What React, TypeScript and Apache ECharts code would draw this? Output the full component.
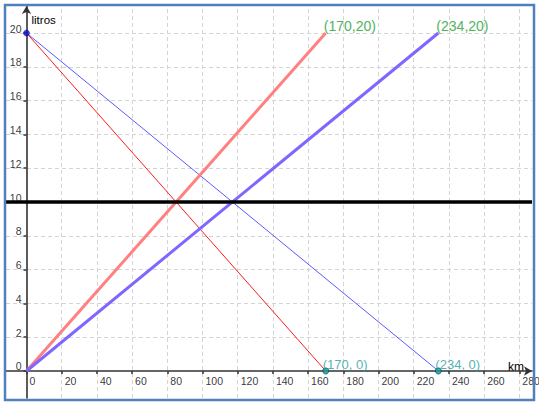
import React, { useEffect, useRef } from "react";
import * as echarts from "echarts";

const xTicks = [0, 20, 40, 60, 80, 100, 120, 140, 160, 180, 200, 220, 240, 260, 280];
const yTicks = [0, 2, 4, 6, 8, 10, 12, 14, 16, 18, 20];
const redDown = [[0, 20], [170, 0]];
const blueDown = [[0, 20], [234, 0]];
const redUp = [[0, 0], [170, 20]];
const purpleUp = [[0, 0], [234, 20]];
const levelY = 10;
const startPoint = [[0, 20]];
const endPoints = [[170, 0], [234, 0]];
const topPoints = [[170, 20], [234, 20]];

const FONT = "Liberation Sans, Arial, sans-serif";

export default function App() {
  const ref = useRef<HTMLDivElement>(null);
  useEffect(() => {
    if (!ref.current) return;
    const chart = echarts.init(ref.current, null, { renderer: "svg" });
    const axisCommon = {
      type: "value" as const,
      axisLine: {
        show: true,
        onZero: true,
        symbol: ["none", "arrow"],
        symbolSize: [7, 8],
        lineStyle: { color: "#333", width: 1.6 },
      },
      axisTick: { show: true, length: 3, lineStyle: { color: "#333", width: 1.5 } },
      axisLabel: { show: false },
      splitLine: { show: false },
    };
    const gridLineStyle = { color: "#d4d4d4", type: [4, 3] as any, width: 1 };
    const gridLines = [
      ...xTicks.filter((v) => v !== 0).map((v) => ({ xAxis: v })),
      ...yTicks.filter((v) => v !== 0 && v !== levelY).map((v) => ({ yAxis: v })),
    ];
    const tickLabelStyle = { fontFamily: FONT, fontSize: 10.5, color: "#000" };
    chart.setOption({
      animation: false,
      backgroundColor: "#fff",
      grid: {
        left: 6,
        right: 7,
        top: 6,
        bottom: 8,
        containLabel: false,
        outerBoundsMode: "none",
      },
      xAxis: {
        ...axisCommon,
        min: -11.65,
        max: 287.2,
        name: "km",
        nameLocation: "end",
        nameGap: -24,
        nameTextStyle: {
          fontFamily: FONT,
          fontSize: 12,
          color: "#000",
          align: "left",
          verticalAlign: "bottom",
          lineHeight: 8,
        },
        axisTick: { ...axisCommon.axisTick, customValues: xTicks },
      },
      yAxis: {
        ...axisCommon,
        min: -1.6,
        max: 21.6,
        name: "litros",
        nameLocation: "end",
        nameGap: -14,
        nameTextStyle: {
          fontFamily: FONT,
          fontSize: 11.5,
          color: "#000",
          align: "left",
          verticalAlign: "middle",
          padding: [0, 0, 0, 5],
        },
        axisTick: { ...axisCommon.axisTick, customValues: yTicks },
      },
      graphic: [
        {
          type: "rect",
          shape: { x: 5, y: 5, width: 529, height: 395 },
          style: { fill: "none", stroke: "#4f81bd", lineWidth: 2.5 },
          z: 100,
          silent: true,
        },
      ],
      series: [
        {
          type: "line",
          data: [],
          z: 0,
          markLine: {
            silent: true,
            symbol: ["none", "none"],
            label: { show: false },
            lineStyle: gridLineStyle,
            data: gridLines,
            z: 0,
          },
        },
        {
          type: "scatter",
          data: xTicks.map((v) => [v, 0]),
          symbolSize: 0,
          silent: true,
          z: 9,
          label: {
            show: true,
            position: "inside",
            align: "left",
            verticalAlign: "top",
            offset: [3, 5],
            ...tickLabelStyle,
            formatter: (p: any) => String(p.value[0]),
          },
        },
        {
          type: "scatter",
          data: yTicks.map((v) => [0, v]),
          symbolSize: 0,
          silent: true,
          z: 9,
          label: {
            show: true,
            position: "inside",
            align: "right",
            verticalAlign: "bottom",
            offset: [-5, 1],
            ...tickLabelStyle,
            formatter: (p: any) => String(p.value[1]),
          },
        },
        {
          type: "line",
          data: redDown,
          symbol: "none",
          lineStyle: { color: "#ff1a1a", width: 1 },
          z: 3,
        },
        {
          type: "line",
          data: blueDown,
          symbol: "none",
          lineStyle: { color: "#5a5aff", width: 1 },
          z: 3,
        },
        {
          type: "line",
          data: redUp,
          symbol: "none",
          lineStyle: { color: "#ff8080", width: 3 },
          z: 4,
        },
        {
          type: "line",
          data: purpleUp,
          symbol: "none",
          lineStyle: { color: "#8066ff", width: 3 },
          z: 4,
          markLine: {
            silent: true,
            symbol: ["none", "none"],
            label: { show: false },
            lineStyle: { color: "#000", width: 3.5, type: "solid" },
            data: [{ yAxis: levelY }],
            z: 6,
          },
        },
        {
          type: "scatter",
          data: startPoint,
          symbolSize: 6,
          itemStyle: { color: "#1010d0", borderColor: "#000080", borderWidth: 0.5 },
          z: 8,
        },
        {
          type: "scatter",
          data: endPoints,
          symbolSize: 6,
          itemStyle: { color: "#1a9a9a", borderColor: "#005050", borderWidth: 1 },
          z: 8,
          label: {
            show: true,
            position: "inside",
            align: "left",
            verticalAlign: "bottom",
            offset: [-3, 0],
            fontFamily: FONT,
            fontSize: 13,
            color: "#1e9ea2",
            formatter: (p: any) => `(${p.value[0]}, ${p.value[1]})`,
          },
        },
        {
          type: "scatter",
          data: topPoints,
          symbolSize: 0,
          z: 8,
          label: {
            show: true,
            position: "inside",
            align: "left",
            verticalAlign: "bottom",
            offset: [-2, 0],
            fontFamily: FONT,
            fontSize: 14,
            color: "#1aa060",
            textBorderColor: "rgba(240,240,120,0.35)",
            textBorderWidth: 1,
            formatter: (p: any) => `(${p.value[0]},${p.value[1]})`,
          },
        },
      ],
    });
    return () => chart.dispose();
  }, []);
  return (
    <div
      ref={ref}
      style={{ position: "absolute", left: 0, top: 0, width: 539, height: 406, background: "#fff" }}
    />
  );
}
